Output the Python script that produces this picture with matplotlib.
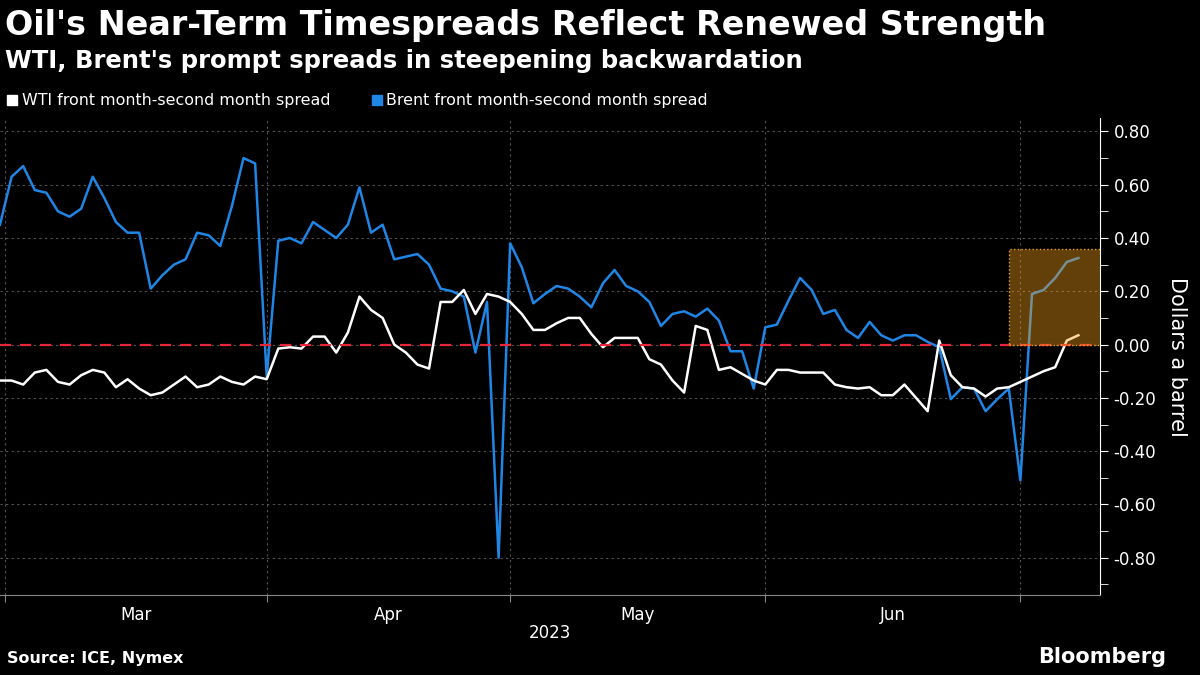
import matplotlib
matplotlib.use("Agg")
import matplotlib.pyplot as plt
import numpy as np

brent = [0.45,0.63,0.67,0.58,0.57,0.50,0.48,0.51,0.63,0.55,0.46,0.42,0.42,0.21,0.26,0.30,0.32,0.42,0.41,0.37,0.52,0.70,0.68,-0.12,0.39,0.40,0.38,0.46,0.43,0.40,0.45,0.59,0.42,0.45,0.32,
         0.33,0.34,0.30,0.21,0.20,0.18,-0.03,0.16,-0.80,0.38,0.29,0.155,0.19,0.22,0.21,0.18,0.14,0.23,0.28,0.22,0.20,0.16,0.07,0.115,0.125,0.105,0.135,0.09,-0.025,-0.025,-0.165,0.065,0.075,
         0.165,0.25,0.205,0.115,0.13,0.055,0.025,0.085,0.035,0.015,0.035,0.035,0.01,-0.01,-0.205,-0.16,-0.165,-0.25,-0.205,-0.165,-0.51,0.19,0.205,0.25,0.31,0.325]
wti = [-0.135,-0.135,-0.15,-0.105,-0.095,-0.14,-0.15,-0.115,-0.095,-0.105,-0.16,-0.13,-0.165,-0.19,-0.18,-0.15,-0.12,-0.16,-0.15,-0.12,-0.14,-0.15,-0.12,-0.13,-0.015,-0.01,-0.015,0.03,0.03,-0.03,0.045,0.18,0.13,0.10,0.0,
       -0.03,-0.075,-0.09,0.16,0.16,0.205,0.115,0.19,0.18,0.16,0.115,0.055,0.055,0.08,0.10,0.10,0.04,-0.01,0.025,0.025,0.025,-0.055,-0.075,-0.135,-0.18,0.07,0.055,-0.095,-0.085,-0.11,-0.135,-0.15,-0.095,
       -0.095,-0.105,-0.105,-0.105,-0.15,-0.16,-0.165,-0.16,-0.19,-0.19,-0.15,-0.20,-0.25,0.015,-0.115,-0.16,-0.165,-0.195,-0.165,-0.16,-0.14,-0.12,-0.10,-0.085,0.015,0.035]
x = np.arange(len(brent))  # business days from 2023-02-28
months = ["Mar", "Apr", "May", "Jun"]
month_bounds = [0.4, 23, 44, 66, 88]   # positions of month starts in trading-day index
yticks = [0.8, 0.6, 0.4, 0.2, 0.0, -0.2, -0.4, -0.6, -0.8]

plt.rcParams['font.family'] = ['DejaVu Sans']
fig = plt.figure(figsize=(12, 6.75), dpi=100, facecolor="black")
ax = fig.add_axes([0.0, 0.1185, 0.917, 0.7065], facecolor="black")

ax.plot(x, wti, color="white", lw=1.8, zorder=3)
ax.plot(x, brent, color="#1f86e6", lw=1.8, zorder=2)
ax.axhline(0, color="#e8263a", lw=1.6, ls=(0, (5, 4)), zorder=4)

ax.add_patch(plt.Rectangle((87.0, 0), 95.0 - 87.0, 0.36, facecolor=(0.98, 0.62, 0.1, 0.4),
                           edgecolor="#f0a020", ls=":", lw=1, zorder=5))

ax.set_xlim(0, 94.9)
ax.set_ylim(-0.94, 0.85)

ax.set_xticks(month_bounds)
ax.set_xticklabels([])
mids = [(month_bounds[i] + month_bounds[i + 1]) / 2 for i in range(4)]
ax.set_xticks(mids, minor=True)
ax.set_xticklabels(months, minor=True)
ax.tick_params(axis="x", which="major", length=5, color="#888888")
ax.tick_params(axis="x", which="minor", length=0, colors="white", labelsize=12, pad=8)
ax.xaxis.grid(True, which="major", color="#555555", ls=(0, (2, 3)), lw=0.8)

ax.yaxis.tick_right()
ax.set_yticks(yticks)
ax.set_yticklabels([f"{v:.2f}" if v >= 0 else f"-{abs(v):.2f}" for v in yticks])
ax.set_yticks(np.arange(-0.9, 0.85, 0.2), minor=True)
ax.tick_params(axis="y", which="both", colors="white", labelsize=12, length=6, direction="out")
ax.yaxis.grid(True, which="major", color="#555555", ls=(0, (2, 3)), lw=0.8)
ax.yaxis.set_label_position("right")
ax.set_ylabel("Dollars a barrel", color="white", fontsize=15, rotation=270, labelpad=22)

for s in ["top", "left"]:
    ax.spines[s].set_visible(False)
ax.spines["right"].set_color("white")
ax.spines["bottom"].set_color("#888888")

fig.text(0.5 * 0.917, 0.055, "2023", color="white", fontsize=12, ha="center")
fig.text(0.004, 0.962, "Oil's Near-Term Timespreads Reflect Renewed Strength", color="white",
         fontsize=24, fontweight="bold", va="center")
fig.text(0.004, 0.91, "WTI, Brent's prompt spreads in steepening backwardation", color="white",
         fontsize=17.5, fontweight="bold", va="center")
fig.patches.append(plt.Rectangle((0.006, 0.845), 0.008, 0.014, transform=fig.transFigure, color="white"))
fig.text(0.018, 0.851, "WTI front month-second month spread", color="white", fontsize=11.4, va="center")
fig.patches.append(plt.Rectangle((0.31, 0.845), 0.008, 0.014, transform=fig.transFigure, color="#1f86e6"))
fig.text(0.322, 0.851, "Brent front month-second month spread", color="white", fontsize=11.4, va="center")
fig.text(0.006, 0.018, "Source: ICE, Nymex", color="white", fontsize=11.5, fontweight="bold")
fig.text(0.972, 0.018, "Bloomberg", color="white", fontsize=15, fontweight="bold", ha="right")
fig.savefig("out.png", dpi=100, facecolor="black")
